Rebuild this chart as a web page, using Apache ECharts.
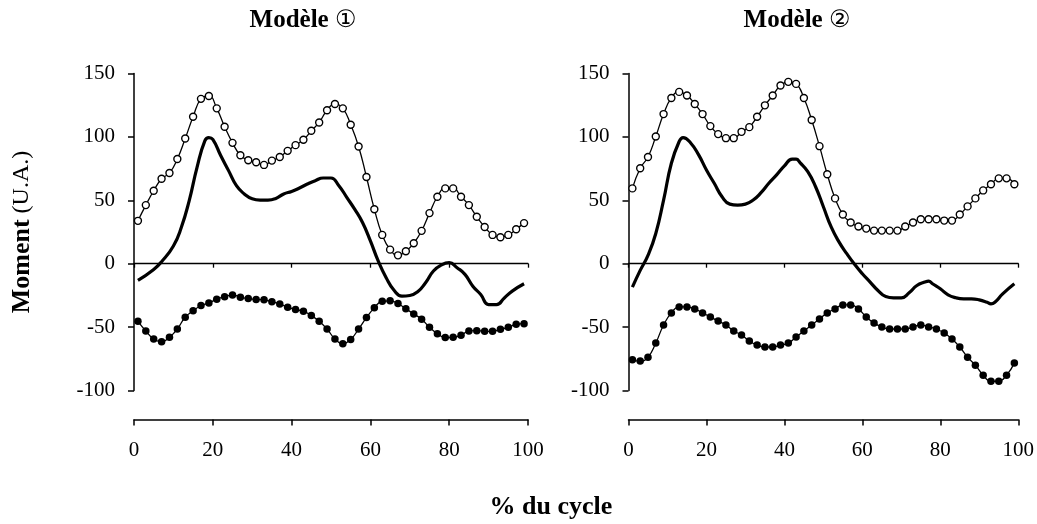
<!DOCTYPE html>
<html>
<head>
<meta charset="utf-8">
<script src="https://cdn.jsdelivr.net/npm/echarts@6/dist/echarts.min.js"></script>
<style>
html,body{margin:0;padding:0;background:#fff;}
#chart{width:1037px;height:524px;}
</style>
</head>
<body>
<div id="chart"></div>
<script>
// ---- data ----
var panelTitleWord = 'Modèle';
var panelTitleMarks = ['\u2460', '\u2461'];
var xAxisTitle = '% du cycle';
var yAxisTitleBold = 'Moment';
var yAxisTitleNormal = '(U.A.)';
var yTicks = [-100, -50, 0, 50, 100, 150];
var xTicks = [0, 20, 40, 60, 80, 100];

var markerX = [1,3,5,7,9,11,13,15,17,19,21,23,25,27,29,31,33,35,37,39,41,43,45,47,49,
               51,53,55,57,59,61,63,65,67,69,71,73,75,77,79,81,83,85,87,89,91,93,95,97,99];

// Modèle 1
var m1Open = [33.8,46.2,57.5,67,71.5,82.6,98.7,115.9,130,132.3,122.5,108,95.3,85.5,81.6,80,77.9,81.3,84.2,89,
              93.5,97.7,104.8,111.4,121,126,122.5,109.6,92.4,68.4,43,22.7,11.1,6.6,9.8,16.1,25.9,39.9,52.8,59.4,
              59.4,52.8,46.2,37,29,22.7,20.9,22.7,27.2,32];
var m1Filled = [-45.4,-53,-59.4,-61.5,-58,-51.5,-42.2,-37.2,-33,-30.9,-28,-26.1,-24.6,-26.4,-27.5,-28.2,-28.5,-30,-31.7,-34.3,
                -36.2,-37.5,-40.9,-45.4,-51.5,-59.4,-63.1,-59.7,-51.5,-42.5,-34.8,-29.6,-29.3,-31.4,-35.6,-39.6,-43.8,-50.2,-55.2,-58.3,
                -58,-56.5,-53,-52.8,-53.3,-53.3,-51.7,-50.2,-47.8,-47.3];
var m1SolidX = [1,5,7,10,12,14,16,18,19,20,22,24,26,28,30,32,34,36,38,40,42,44,46,48,50,52,54,56,58,60,62,64,66,68,70,72,74,76,78,80,82,84,86,88,90,92,94,96,99];
var m1SolidY = [-13.2,-4.5,1.6,14,28.5,49.6,76,97,99.5,98,85.3,73.4,61.5,55,51.2,50.2,50.2,51.5,55,57,59.7,62.8,65.5,67.6,67.6,61.5,52.3,43,32.5,18,2,-11,-21,-25.6,-25.1,-22.2,-15,-5.8,-1,0.8,-3.2,-8.4,-17.7,-24.3,-32.2,-32.2,-27,-21.6,-15.8];

// Modèle 2
var m2Open = [59.4,75.3,84.2,100.3,118,130.7,135.5,132.6,126,118,108.5,102.2,99,99,104,107.7,115.9,124.9,132.6,140.5,
              143.4,141.8,130.7,113.3,92.7,70.5,51.5,38.8,32.5,29.3,27.7,26.1,26.1,26.1,26.1,29.3,32.5,35.1,35.1,35.1,
              34,34,38.8,45.2,51.5,57.8,62.6,67.3,67.3,62.6];
var m2Filled = [-75.8,-76.8,-73.7,-62.6,-48.3,-38.8,-34.1,-34.1,-35.7,-38.8,-42,-45.2,-48.3,-53.1,-56.2,-61,-64.2,-65.7,-65.7,-64.2,
                -62.6,-57.8,-53.1,-48.3,-43.6,-38.8,-35.7,-32.5,-32.5,-35.7,-42,-46.7,-49.9,-51.5,-51.5,-51.5,-49.9,-48.3,-49.9,-51.5,
                -54.7,-59.4,-65.7,-73.7,-80,-87.9,-92.7,-92.7,-87.9,-78.4];
var m2SolidX = [1,3,5,7,9,11,13,14,16,18,20,22,24,26,28,30,32,34,36,38,40,42,43,44,46,48,50,52,54,56,58,60,62,64,66,68,70,72,74,76,77,78,80,82,84,86,88,90,92,93,94,96,99];
var m2SolidY = [-18.5,-5.3,6.6,23.8,50.2,79.2,96.4,99.5,95,85.8,73.9,63.4,52.8,47,46.2,47,50.2,56,63.4,70,77.1,82.4,82.4,79.7,72.6,60.7,44.9,29,17.2,7.9,-0.5,-7.9,-14.5,-21.1,-25.9,-26.9,-26.9,-23,-17.2,-14.5,-13.7,-15.8,-19.8,-24.6,-26.9,-27.7,-27.7,-28.5,-30.4,-31.7,-30.4,-23.8,-15.8];

// ---- build ----
function pairs(xs, ys){ var out=[]; for (var i=0;i<ys.length;i++) out.push([xs[i], ys[i]]); return out; }

var FONT = '"Liberation Serif", "Times New Roman", serif';
var grids = [
  {left: 134, top: 73.5, width: 394, height: 317},
  {left: 628.5, top: 73.5, width: 394, height: 317}
];
var xAxes = [], yAxes = [], series = [];
var panels = [
  {open: m1Open, filled: m1Filled, sx: m1SolidX, sy: m1SolidY},
  {open: m2Open, filled: m2Filled, sx: m2SolidX, sy: m2SolidY}
];
panels.forEach(function(p, g){
  xAxes.push({
    type: 'value', gridIndex: g, position: 'bottom', offset: 29, min: xTicks[0], max: xTicks[xTicks.length-1], interval: 20,
    axisLine: {show: true, onZero: false, lineStyle: {color: '#000', width: 1.5}},
    axisTick: {show: true, inside: false, length: 6, lineStyle: {color: '#000', width: 1.5}},
    axisLabel: {show: true, color: '#000', fontFamily: FONT, fontSize: 21, margin: 20},
    splitLine: {show: false}
  });
  xAxes.push({
    type: 'value', gridIndex: g, position: 'top', min: xTicks[0], max: xTicks[xTicks.length-1], interval: 20,
    axisLine: {show: true, onZero: true, lineStyle: {color: '#000', width: 1.3}},
    axisTick: {show: true, inside: true, length: 4, lineStyle: {color: '#000', width: 1.3}},
    axisLabel: {show: false},
    splitLine: {show: false}
  });
  yAxes.push({
    type: 'value', gridIndex: g, min: yTicks[0], max: yTicks[yTicks.length-1], interval: 50,
    axisLine: {show: true, onZero: false, lineStyle: {color: '#000', width: 1.5}},
    axisTick: {show: true, inside: false, length: 6, lineStyle: {color: '#000', width: 1.5}},
    axisLabel: {color: '#000', fontFamily: FONT, fontSize: 21, margin: 19},
    splitLine: {show: false},
    name: g === 0 ? '{b|' + yAxisTitleBold + '}{s| }{n|' + yAxisTitleNormal + '}' : '',
    nameLocation: 'middle', nameRotate: 90, nameGap: 99,
    nameTextStyle: {rich: {
      b: {fontFamily: FONT, fontWeight: 'bold', fontSize: 26, color: '#000'},
      s: {fontFamily: FONT, fontSize: 24, color: '#000'},
      n: {fontFamily: FONT, fontSize: 24, color: '#000'}
    }}
  });
  var xi = g * 2;
  series.push({
    type: 'line', xAxisIndex: xi, yAxisIndex: g, data: pairs(markerX, p.open), smooth: true,
    symbol: 'circle', symbolSize: 7, showSymbol: true,
    lineStyle: {color: '#000', width: 1.3},
    itemStyle: {color: '#fff', borderColor: '#000', borderWidth: 1.4},
    animation: false, z: 3
  });
  series.push({
    type: 'line', xAxisIndex: xi, yAxisIndex: g, data: pairs(markerX, p.filled), smooth: true,
    symbol: 'circle', symbolSize: 7.5, showSymbol: true,
    lineStyle: {color: '#000', width: 1.3},
    itemStyle: {color: '#000', borderColor: '#000', borderWidth: 0},
    animation: false, z: 3
  });
  series.push({
    type: 'line', xAxisIndex: xi, yAxisIndex: g, data: pairs(p.sx, p.sy), smooth: true,
    symbol: 'none', showSymbol: false,
    lineStyle: {color: '#000', width: 3.2},
    animation: false, z: 2
  });
});

var titleRich = {
  b: {fontFamily: FONT, fontWeight: 'bold', fontSize: 25, color: '#000'},
  s: {fontFamily: FONT, fontSize: 25, color: '#000'},
  c: {fontFamily: '"DejaVu Sans", sans-serif', fontWeight: 'normal', fontSize: 24, color: '#000'}
};
var chart = echarts.init(document.getElementById('chart'), null, {renderer: 'canvas'});
chart.setOption({
  backgroundColor: '#fff',
  animation: false,
  title: [
    {text: '{b|' + panelTitleWord + '}{s| }{c|' + panelTitleMarks[0] + '}', left: 298, top: 3, textAlign: 'center',
     textStyle: {rich: titleRich}},
    {text: '{b|' + panelTitleWord + '}{s| }{c|' + panelTitleMarks[1] + '}', left: 792, top: 3, textAlign: 'center',
     textStyle: {rich: titleRich}},
    {text: xAxisTitle, left: 546, top: 489, textAlign: 'center',
     textStyle: {fontFamily: FONT, fontWeight: 'bold', fontSize: 26, color: '#000'}}
  ],
  grid: grids,
  xAxis: xAxes,
  yAxis: yAxes,
  series: series
});
</script>
</body>
</html>
